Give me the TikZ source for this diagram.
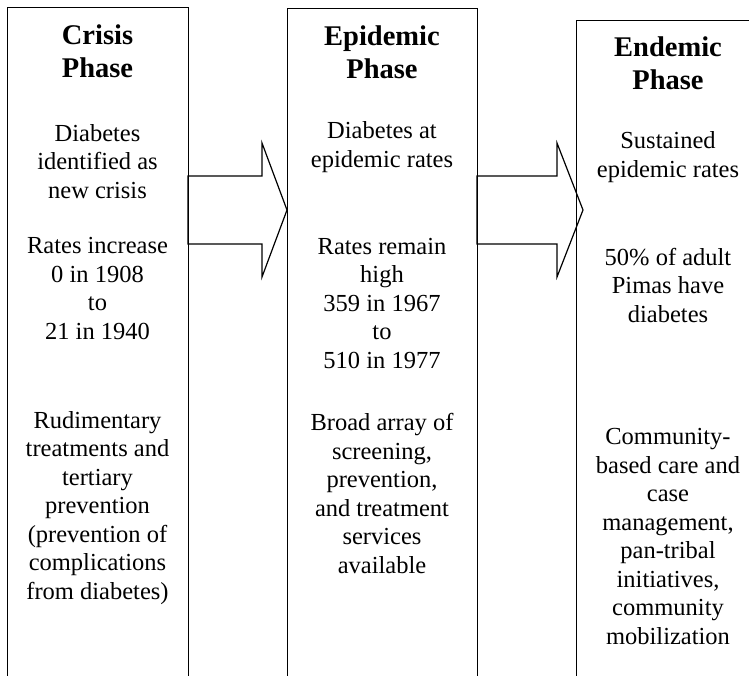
\documentclass[tikz,border=0pt]{standalone}
\usepackage{fontspec}
\setmainfont{Liberation Serif}
\begin{document}
\begin{tikzpicture}[x=1pt,y=-1pt,
  body/.style={align=center, anchor=base, inner sep=0pt, font=\fontsize{24.5}{28.5}\selectfont},
  ttl/.style={align=center, anchor=base, inner sep=0pt, font=\fontsize{28.5}{33}\selectfont\bfseries},
  colbox/.style={draw, line width=1.2pt, inner sep=0pt, anchor=north west, minimum height=720pt},
  bigarrow/.style={draw, line width=1.2pt, line join=miter}]
\useasboundingbox (0,0) rectangle (749,675);
\clip (0,0) rectangle (749,675);
% columns
\node[colbox, minimum width=181pt] (box1) at (7,7) {};
\node[colbox, minimum width=190pt] (box2) at (287,8) {};
\node[colbox, minimum width=184pt] (box3) at (576,20) {};
% arrows
\coordinate (a1s) at (188,176);
\draw[bigarrow] (a1s) -- (262,176) -- (262,143) -- (287,210) -- (262,277) -- (262,244) -- (188,244) -- cycle;
\coordinate (a2s) at (477,176);
\draw[bigarrow] (a2s) -- (557,176) -- (557,143) -- (583,210) -- (557,277) -- (557,244) -- (477,244) -- cycle;
% column 1 (anchor = baseline of last line)
\node[ttl] (t1) at (97.5,77) {Crisis\\Phase};
\node[body] (c1a) at (97.5,198) {Diabetes\\identified as\\new crisis};
\node[body] (c1b) at (97.5,339) {Rates increase\\0 in 1908\\to\\21 in 1940};
\node[body] (c1c) at (97.5,599) {Rudimentary\\treatments and\\tertiary\\prevention\\(prevention of\\complications\\from diabetes)};
% column 2
\node[ttl] (t2) at (382,78) {Epidemic\\Phase};
\node[body] (c2a) at (382,167) {Diabetes at\\epidemic rates};
\node[body] (c2b) at (382,368) {Rates remain\\high\\359 in 1967\\to\\510 in 1977};
\node[body] (c2c) at (382,573) {Broad array of\\screening,\\prevention,\\and treatment\\services\\available};
% column 3
\node[ttl] (t3) at (668,89) {Endemic\\Phase};
\node[body] (c3a) at (668,177) {Sustained\\epidemic rates};
\node[body] (c3b) at (668,322) {50\% of adult\\Pimas have\\diabetes};
\node[body] (c3c) at (668,644) {Community-\\based care and\\case\\management,\\pan-tribal\\initiatives,\\community\\mobilization};
\end{tikzpicture}
\end{document}
